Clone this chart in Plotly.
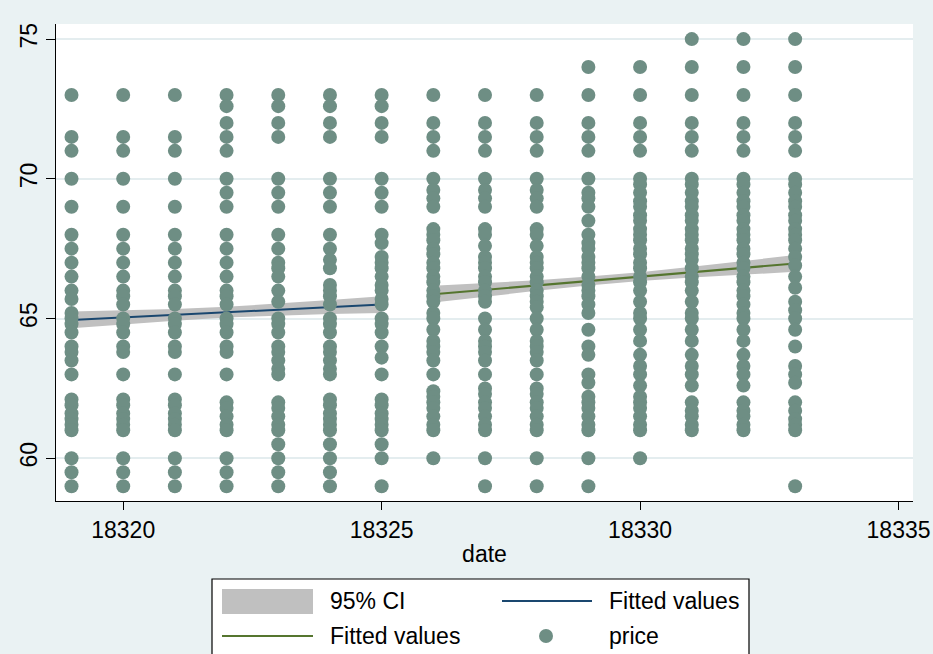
import plotly.graph_objects as go

# ---- observed prices, one list per date -------------------------------------
dates = list(range(18319, 18334))

price_18319 = [73, 71.5, 71, 70, 69, 68, 67.5, 67, 66.5, 66, 65.7, 65.2, 65, 64.8, 64.5,
               64, 63.8, 63.5, 63, 62.1, 61.9, 61.6, 61.4, 61.2, 61, 60, 59.5, 59]
price_18320 = [73, 71.5, 71, 70, 69, 68, 67.5, 67, 66.5, 66, 65.8, 65.5, 65, 64.8, 64.5,
               64, 63.8, 63, 62.1, 61.9, 61.6, 61.4, 61.2, 61, 60, 59.5, 59]
price_18321 = [73, 71.5, 71, 70, 69, 68, 67.5, 67, 66.5, 66, 65.8, 65.5, 65, 64.8, 64.5,
               64, 63.8, 63, 62.1, 61.9, 61.6, 61.4, 61.2, 61, 60, 59.5, 59]
price_18322 = [73, 72.6, 72, 71.5, 71, 70, 69.5, 69, 68, 67.5, 67, 66.5, 66, 65.8, 65.5,
               65, 64.8, 64.5, 64, 63.8, 63, 62, 61.8, 61.5, 61.2, 61, 60, 59.5, 59]
price_18323 = [73, 72.6, 72, 71.5, 70, 69.5, 69, 68, 67.5, 67, 66.8, 66.5, 66, 65.6, 65,
               64.8, 64.5, 64, 63.8, 63.5, 63.2, 63, 62, 61.8, 61.5, 61.2, 61, 60.5, 60,
               59.5, 59]
price_18324 = [73, 72.6, 72, 71.5, 70, 69.5, 69, 68, 67.5, 67.1, 66.8, 66.2, 66, 65.8,
               65.5, 65, 64.8, 64.5, 64, 63.8, 63.5, 63.2, 63, 62.1, 61.9, 61.6, 61.4,
               61.2, 61, 60.5, 60, 59.5, 59]
price_18325 = [73, 72.6, 72, 71.5, 70, 69.5, 69, 68, 67.7, 67.2, 67, 66.8, 66.5, 66.2,
               66, 65.7, 65.5, 65, 64.8, 64.5, 64, 63.6, 63, 62.1, 61.9, 61.6, 61.4,
               61.2, 61, 60.5, 60, 59]
price_18326 = [73, 72, 71.5, 71, 70, 69.6, 69.3, 69, 68.2, 68, 67.8, 67.5, 67.3, 67,
               66.8, 66.5, 66.3, 66, 65.8, 65.6, 65.2, 65, 64.6, 64.2, 64, 63.8, 63.5,
               63, 62.4, 62.2, 62, 61.8, 61.5, 61.2, 61, 60]
price_18327 = [73, 72, 71.5, 71, 70, 69.6, 69.3, 69, 68.2, 68, 67.6, 67.2, 67, 66.8,
               66.5, 66.3, 66, 65.8, 65.6, 65, 64.6, 64.2, 64, 63.8, 63.5, 63, 62.5,
               62.3, 62, 61.8, 61.5, 61.2, 61, 60, 59]
price_18328 = [73, 72, 71.5, 71, 70, 69.6, 69.3, 69, 68.2, 68, 67.6, 67.2, 67, 66.8,
               66.5, 66.3, 66, 65.8, 65.6, 65.4, 65, 64.6, 64.2, 64, 63.8, 63.5, 63,
               62.5, 62.3, 62, 61.8, 61.5, 61.2, 61, 60, 59]
price_18329 = [74, 73, 72, 71.5, 71, 70, 69.5, 69.3, 69, 68.5, 68, 67.7, 67.5, 67.2, 67,
               66.8, 66.5, 66.2, 66, 65.8, 65.5, 65.2, 64.6, 64, 63.7, 63, 62.7, 62.2,
               62, 61.8, 61.5, 61.2, 61, 60, 59]
price_18330 = [74, 73, 72, 71.5, 71, 70, 69.8, 69.5, 69.2, 69, 68.7, 68.5, 68.2, 68,
               67.8, 67.5, 67.3, 67, 66.8, 66.5, 66.3, 66, 65.6, 65.2, 65, 64.6, 64.2,
               63.7, 63.3, 63, 62.6, 62.2, 62, 61.8, 61.5, 61.2, 61, 60]
price_18331 = [75, 74, 73, 72, 71.5, 71, 70, 69.8, 69.5, 69.2, 69, 68.7, 68.5, 68.2, 68,
               67.8, 67.5, 67.3, 67.1, 66.8, 66.5, 66.3, 66, 65.6, 65.2, 65, 64.6, 64.2,
               63.7, 63.3, 63, 62.6, 62, 61.7, 61.5, 61.2, 61]
price_18332 = [75, 74, 73, 72, 71.5, 71, 70, 69.8, 69.5, 69.2, 69, 68.7, 68.5, 68.2, 68,
               67.8, 67.5, 67.3, 67, 66.8, 66.5, 66.3, 66, 65.8, 65.5, 65.2, 65, 64.6,
               64.2, 63.7, 63.3, 63, 62.6, 62, 61.7, 61.5, 61.2, 61]
price_18333 = [75, 74, 73, 72, 71.5, 71, 70, 69.8, 69.5, 69.2, 69, 68.7, 68.5, 68.2, 68,
               67.8, 67.5, 67.2, 66.9, 66.5, 66.1, 65.6, 65.3, 65, 64.6, 64, 63.3, 63,
               62.7, 62, 61.7, 61.4, 61.2, 61, 59]

price_columns = [price_18319, price_18320, price_18321, price_18322, price_18323,
                 price_18324, price_18325, price_18326, price_18327, price_18328,
                 price_18329, price_18330, price_18331, price_18332, price_18333]

# ---- linear fits with 95% confidence bands ----------------------------------
fit1_dates = [18319, 18320, 18321, 18322, 18323, 18324, 18325]
fit1_vals = [64.95, 65.04, 65.13, 65.23, 65.32, 65.41, 65.50]
ci1_lo = [64.65, 64.79, 64.92, 65.04, 65.11, 65.16, 65.20]
ci1_hi = [65.25, 65.29, 65.34, 65.42, 65.53, 65.66, 65.80]

fit2_dates = [18326, 18327, 18328, 18329, 18330, 18331, 18332, 18333]
fit2_vals = [65.87, 66.03, 66.18, 66.34, 66.50, 66.66, 66.81, 66.97]
ci2_lo = [65.57, 65.79, 65.99, 66.18, 66.34, 66.47, 66.57, 66.67]
ci2_hi = [66.17, 66.27, 66.37, 66.50, 66.66, 66.85, 67.05, 67.27]

x_ticks = [18320, 18325, 18330, 18335]
y_ticks = [60, 65, 70, 75]

# ---- styling -----------------------------------------------------------------
BG = "#EAF2F3"
CI_GRAY = "#C0C0C0"
NAVY = "#1A476F"
FOREST = "#55752F"
TEAL = "#6E8E84"
FONT = "Liberation Sans, Arial, sans-serif"
FS = 23

W, H = 933, 654
ML, MR, MT, MB = 56, 20, 24, 153
PW, PH = W - ML - MR, H - MT - MB

scatter_x, scatter_y = [], []
for d, col in zip(dates, price_columns):
    scatter_x += [d] * len(col)
    scatter_y += col

fig = go.Figure()


def band(xs, lo, hi):
    return go.Scatter(x=xs + xs[::-1], y=hi + lo[::-1], fill="toself",
                      fillcolor=CI_GRAY, line=dict(width=0), mode="lines",
                      hoverinfo="skip", showlegend=False)


fig.add_trace(band(fit1_dates, ci1_lo, ci1_hi))
fig.add_trace(go.Scatter(x=fit1_dates, y=fit1_vals, mode="lines",
                         line=dict(color=NAVY, width=2), showlegend=False))
fig.add_trace(band(fit2_dates, ci2_lo, ci2_hi))
fig.add_trace(go.Scatter(x=fit2_dates, y=fit2_vals, mode="lines",
                         line=dict(color=FOREST, width=2), showlegend=False))
fig.add_trace(go.Scatter(x=scatter_x, y=scatter_y, mode="markers",
                         marker=dict(color=TEAL, size=14, line=dict(width=0)),
                         showlegend=False))


# ---- legend box drawn below the plot (pixel positions -> paper coords) ------
def px(x):
    return (x - ML) / PW


def py(y):
    return (H - MB - y) / PH


shapes = [
    dict(type="rect", xref="paper", yref="paper", x0=px(212), x1=px(749),
         y0=py(680), y1=py(579), fillcolor="white", line=dict(color="black", width=1.2),
         layer="above"),
    dict(type="rect", xref="paper", yref="paper", x0=px(222), x1=px(313),
         y0=py(614), y1=py(589), fillcolor=CI_GRAY, line=dict(width=0), layer="above"),
    dict(type="line", xref="paper", yref="paper", x0=px(502), x1=px(592),
         y0=py(601), y1=py(601), line=dict(color=NAVY, width=2), layer="above"),
    dict(type="line", xref="paper", yref="paper", x0=px(222), x1=px(313),
         y0=py(636), y1=py(636), line=dict(color=FOREST, width=2), layer="above"),
    dict(type="circle", xref="paper", yref="paper", x0=px(539), x1=px(553),
         y0=py(643), y1=py(629), fillcolor=TEAL, line=dict(width=0), layer="above"),
]

legend_text = [("95% CI", 328, 601), ("Fitted values", 607, 601),
               ("Fitted values", 328, 636), ("price", 607, 636)]
annotations = [dict(text=t, x=px(x), y=py(y), xref="paper", yref="paper",
                    xanchor="left", yanchor="middle", showarrow=False,
                    font=dict(family=FONT, size=FS, color="black"))
               for t, x, y in legend_text]

fig.update_layout(
    width=W, height=H,
    margin=dict(l=ML, r=MR, t=MT, b=MB, autoexpand=False),
    paper_bgcolor=BG, plot_bgcolor="white",
    font=dict(family=FONT, size=FS, color="black"),
    showlegend=False,
    shapes=shapes, annotations=annotations,
    xaxis=dict(range=[18318.70, 18335.28], tickvals=x_ticks,
               ticktext=[str(v) for v in x_ticks], automargin=False,
               showgrid=False, zeroline=False, showline=True,
               linecolor="black", linewidth=1.2, ticks="outside", ticklen=8,
               tickcolor="black", tickwidth=1.2,
               title=dict(text="date", standoff=4, font=dict(size=FS))),
    yaxis=dict(range=[58.47, 75.54], tickvals=y_ticks, automargin=False,
               ticktext=[str(v) for v in y_ticks], tickangle=-90,
               showgrid=True, gridcolor="#E4EDEF", gridwidth=1.5,
               zeroline=False, showline=True, linecolor="black", linewidth=1.2,
               ticks="outside", ticklen=9, tickcolor="black", tickwidth=1.2),
)

fig.write_html("out.html")
